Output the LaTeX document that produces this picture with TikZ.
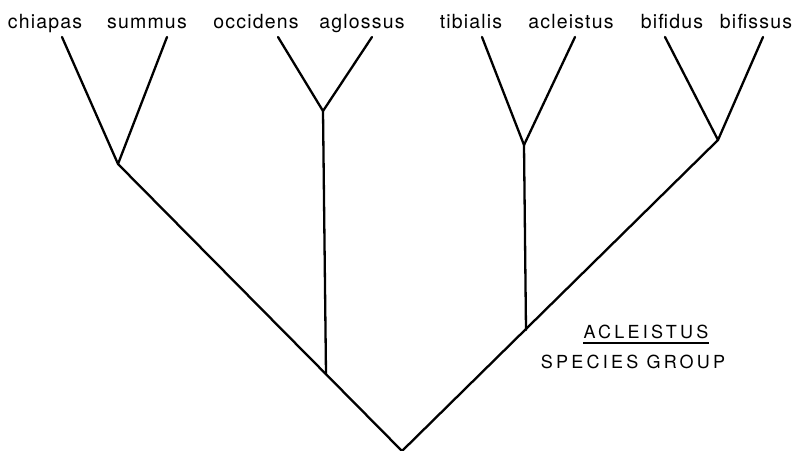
\documentclass[tikz,border=0pt]{standalone}
\usepackage{fontspec}
\setmainfont{TeX Gyre Heros}
\newfontfamily\taxfont[LetterSpace=6]{TeX Gyre Heros}
\newfontfamily\grpfont[LetterSpace=18]{TeX Gyre Heros}
\begin{document}
\begin{tikzpicture}[x=1pt,y=-1pt,
  branch/.style={line width=2.3pt,line cap=round,line join=round},
  taxon/.style={anchor=base,inner sep=0pt,font=\taxfont\fontsize{19.5}{19.5}\selectfont},
  grp/.style={anchor=base,inner sep=0pt,font=\grpfont\fontsize{18}{18}\selectfont}]
\useasboundingbox (0,0) rectangle (797,450);
% labels
\node[taxon] (chiapas)   at (45,28)  {chiapas};
\node[taxon] (summus)    at (147,28) {summus};
\node[taxon] (occidens)  at (256,28) {occidens};
\node[taxon] (aglossus)  at (362,28) {aglossus};
\node[taxon] (tibialis)  at (471,28) {tibialis};
\node[taxon] (acleistus) at (571,28) {acleistus};
\node[taxon] (bifidus)   at (672,28) {bifidus};
\node[taxon] (bifissus)  at (756,28) {bifissus};
% tips
\coordinate (tchi) at (62,37);
\coordinate (tsum) at (167,37);
\coordinate (tocc) at (278,37);
\coordinate (tagl) at (372,37);
\coordinate (ttib) at (482,37);
\coordinate (tacl) at (575,37);
\coordinate (tbfd) at (665,37);
\coordinate (tbfs) at (763,37);
% internal nodes
\coordinate (root) at (402,451);
\coordinate (nA) at (118,164);
\coordinate (nB) at (326,374);
\coordinate (nBt) at (323,111);
\coordinate (nC) at (526,330);
\coordinate (nCt) at (524,145);
\coordinate (nD) at (718,140);
% branches
\draw[branch] (tchi) -- (nA) -- (tsum);
\draw[branch] (tocc) -- (nBt) -- (tagl);
\draw[branch] (ttib) -- (nCt) -- (tacl);
\draw[branch] (tbfd) -- (nD) -- (tbfs);
\draw[branch] (nA) -- (root) -- (nD);
\draw[branch] (nBt) -- (nB);
\draw[branch] (nCt) -- (nC);
% group label
\node[grp] (gname) at (646,338) {ACLEISTUS};
\draw[line width=1.8pt] ([yshift=-5pt]gname.base west) -- ([yshift=-5pt]gname.base east);
\node[grp] (gword) at (633,368) {SPECIES GROUP};
\end{tikzpicture}
\end{document}
